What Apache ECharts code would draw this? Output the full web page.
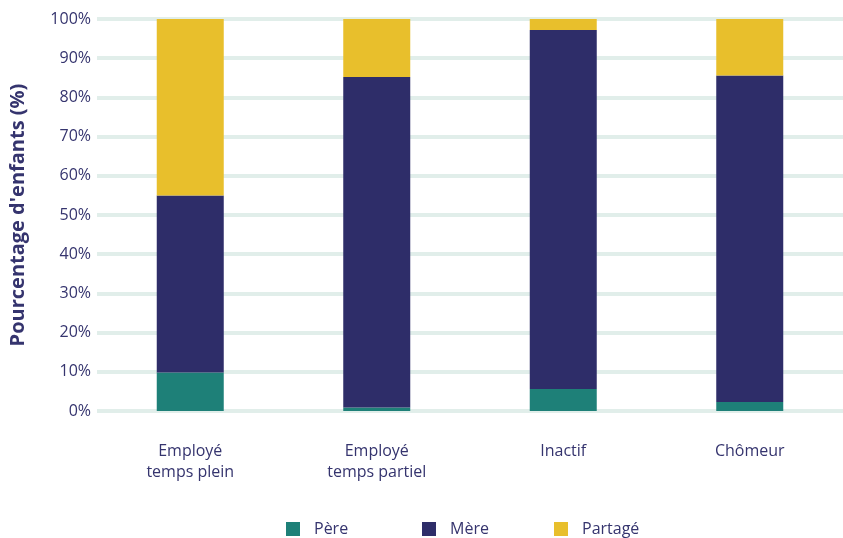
<!DOCTYPE html>
<html><head><meta charset="utf-8">
<script src="https://cdn.jsdelivr.net/npm/echarts@6/dist/echarts.min.js"></script>
<style>html,body{margin:0;padding:0;background:#fff}#c{width:843px;height:538px}</style>
</head><body><div id="c"></div>
<script>
const categories = ['Employé\ntemps plein', 'Employé\ntemps partiel', 'Inactif', 'Chômeur'];
const seriesNames = ['Père', 'Mère', 'Partagé'];
const pere = [9.8, 0.9, 5.6, 2.3];
const mere = [45.2, 84.3, 91.6, 83.3];
const partage = [45.0, 14.8, 2.8, 14.4];
const yTicks = [0, 10, 20, 30, 40, 50, 60, 70, 80, 90, 100];

const txt = '#35346e';
const font = '"Open Sans"';
const colors = ['#1e8078', '#2e2d69', '#e8bf2c'];
const legendLeft = [286, 422, 554];
const chart = echarts.init(document.getElementById('c'));
chart.setOption({
  animation: false,
  textStyle: { fontFamily: font },
  grid: { left: 97, right: 0, top: 19, bottom: 127 },
  legend: seriesNames.map((n, i) => ({
    left: legendLeft[i], top: 521, padding: 0, itemWidth: 14, itemHeight: 14,
    icon: 'rect',
    textStyle: { color: txt, fontSize: 16, fontFamily: font, padding: [0, 0, 0, 9] },
    data: [n]
  })),
  xAxis: {
    type: 'category', data: categories,
    axisLine: { show: false }, axisTick: { show: false },
    axisLabel: { color: txt, fontSize: 16, lineHeight: 21, margin: 30, fontFamily: font }
  },
  yAxis: {
    type: 'value', min: 0, max: 100, interval: 10,
    name: "Pourcentage d'enfants (%)", nameLocation: 'middle', nameGap: 69,
    nameTextStyle: { color: txt, fontSize: 20, fontWeight: 'bold', fontFamily: font },
    axisLabel: { color: txt, fontSize: 16, margin: 6, fontFamily: font,
      formatter: v => yTicks.includes(v) ? v + '%' : '' },
    splitLine: { lineStyle: { color: '#e1eeea', width: 4 } },
    axisLine: { show: false }, axisTick: { show: false }
  },
  series: [pere, mere, partage].map((d, i) => ({
    name: seriesNames[i], type: 'bar', stack: 's', data: d, barWidth: 67,
    itemStyle: { color: colors[i] }
  }))
});
</script></body></html>
